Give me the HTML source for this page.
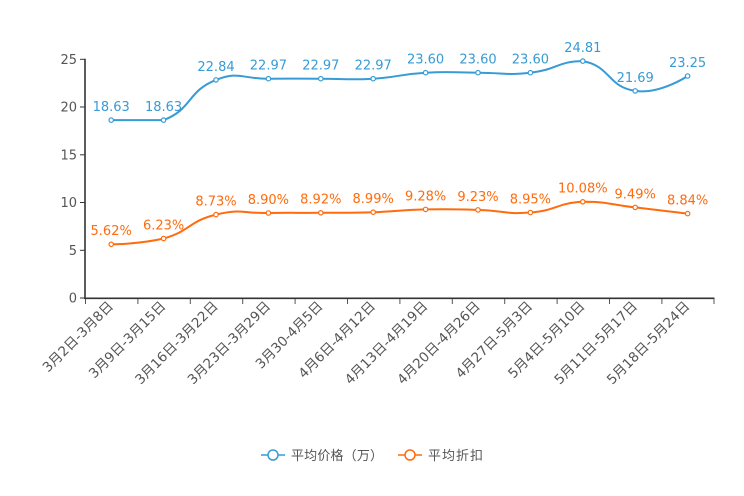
<!DOCTYPE html>
<html><head><meta charset="utf-8"><style>
html,body{margin:0;padding:0;background:#fff;}
svg{display:block;}
text{font-family:"DejaVu Sans","Liberation Sans","Noto Sans CJK SC",sans-serif;}
text.cjk{font-family:"Noto Sans CJK SC","WenQuanYi Zen Hei",sans-serif;}
</style></head><body>
<svg width="744" height="496" viewBox="0 0 744 496" xmlns="http://www.w3.org/2000/svg">
<rect width="744" height="496" fill="#fff"/>
<!-- axes -->
<g stroke="#333" stroke-width="1.6" fill="none">
<line x1="85" y1="58.7" x2="85" y2="299"/>
<line x1="84.2" y1="298.3" x2="714.5" y2="298.3"/>
</g>
<g stroke="#333" stroke-width="1">
<line x1="80" y1="298" x2="85" y2="298"/>
<line x1="80" y1="250.3" x2="85" y2="250.3"/>
<line x1="80" y1="202.5" x2="85" y2="202.5"/>
<line x1="80" y1="154.8" x2="85" y2="154.8"/>
<line x1="80" y1="107" x2="85" y2="107"/>
<line x1="80" y1="59.3" x2="85" y2="59.3"/>
</g>
<g stroke="#555" stroke-width="1">
<line x1="85.5" y1="299" x2="85.5" y2="304"/>
<line x1="137.9" y1="299" x2="137.9" y2="304"/>
<line x1="190.3" y1="299" x2="190.3" y2="304"/>
<line x1="242.7" y1="299" x2="242.7" y2="304"/>
<line x1="295.1" y1="299" x2="295.1" y2="304"/>
<line x1="347.5" y1="299" x2="347.5" y2="304"/>
<line x1="399.9" y1="299" x2="399.9" y2="304"/>
<line x1="452.3" y1="299" x2="452.3" y2="304"/>
<line x1="504.7" y1="299" x2="504.7" y2="304"/>
<line x1="557.1" y1="299" x2="557.1" y2="304"/>
<line x1="609.5" y1="299" x2="609.5" y2="304"/>
<line x1="661.9" y1="299" x2="661.9" y2="304"/>
<line x1="714" y1="299" x2="714" y2="304"/>
</g>
<!-- y labels -->
<g fill="#555" font-size="13" text-anchor="end">
<text x="77" y="302.7">0</text>
<text x="77" y="255">5</text>
<text x="77" y="207.2">10</text>
<text x="77" y="159.5">15</text>
<text x="77" y="111.7">20</text>
<text x="77" y="64">25</text>
</g>
<!-- x labels -->
<g fill="#555" font-size="13.5" text-anchor="end">
<text transform="translate(114,307) rotate(-45)">3月2日-3月8日</text>
<text transform="translate(166.4,307) rotate(-45)">3月9日-3月15日</text>
<text transform="translate(218.8,307) rotate(-45)">3月16日-3月22日</text>
<text transform="translate(271.2,307) rotate(-45)">3月23日-3月29日</text>
<text transform="translate(323.6,307) rotate(-45)">3月30-4月5日</text>
<text transform="translate(376,307) rotate(-45)">4月6日-4月12日</text>
<text transform="translate(428.4,307) rotate(-45)">4月13日-4月19日</text>
<text transform="translate(480.8,307) rotate(-45)">4月20日-4月26日</text>
<text transform="translate(533.2,307) rotate(-45)">4月27日-5月3日</text>
<text transform="translate(585.6,307) rotate(-45)">5月4日-5月10日</text>
<text transform="translate(638,307) rotate(-45)">5月11日-5月17日</text>
<text transform="translate(690.4,307) rotate(-45)">5月18日-5月24日</text>
</g>
<!-- blue series -->
<path fill="none" stroke="#379bd5" stroke-width="2" d="M111.2,120.1 C111.2,120.1 140.42,120.1 163.6,120.1 C192.82,108.89 186.79,91.44 216,79.9 C239.19,70.74 242.2,79.0 268.4,78.7 C294.6,78.4 294.6,78.7 320.8,78.7 C347.0,78.7 347.08,80.2 373.2,78.7 C399.48,77.2 399.32,74.2 425.6,72.7 C451.72,71.2 451.8,72.7 478,72.7 C504.2,72.7 504.51,75.57 530.4,72.7 C556.91,69.77 558.12,61.1 582.8,61.1 C610.52,65.91 607.67,86.99 635.2,90.9 C660.07,94.44 687.6,76.0 687.6,76.0"/>
<g fill="#fff" stroke="#379bd5" stroke-width="1.2">
<circle cx="111.2" cy="120.1" r="2.2"/><circle cx="163.6" cy="120.1" r="2.2"/><circle cx="216" cy="79.9" r="2.2"/><circle cx="268.4" cy="78.7" r="2.2"/><circle cx="320.8" cy="78.7" r="2.2"/><circle cx="373.2" cy="78.7" r="2.2"/><circle cx="425.6" cy="72.7" r="2.2"/><circle cx="478" cy="72.7" r="2.2"/><circle cx="530.4" cy="72.7" r="2.2"/><circle cx="582.8" cy="61.1" r="2.2"/><circle cx="635.2" cy="90.9" r="2.2"/><circle cx="687.6" cy="76" r="2.2"/>
</g>
<g fill="#379bd5" font-size="13" text-anchor="middle">
<text x="111.2" y="111">18.63</text>
<text x="163.6" y="111">18.63</text>
<text x="216" y="70.8">22.84</text>
<text x="268.4" y="69.6">22.97</text>
<text x="320.8" y="69.6">22.97</text>
<text x="373.2" y="69.6">22.97</text>
<text x="425.6" y="63.6">23.60</text>
<text x="478" y="63.6">23.60</text>
<text x="530.4" y="63.6">23.60</text>
<text x="582.8" y="52">24.81</text>
<text x="635.2" y="81.8">21.69</text>
<text x="687.6" y="66.9">23.25</text>
</g>
<!-- orange series -->
<path fill="none" stroke="#ff6b0d" stroke-width="2" d="M111.2,244.3 C111.2,244.3 138.56,244.3 163.6,238.5 C190.96,230.75 188.57,221.27 216,214.6 C240.97,208.52 242.2,213.45 268.4,213.0 C294.6,212.55 294.6,213.0 320.8,212.8 C347.0,212.6 347.0,213.05 373.2,212.2 C399.4,211.35 399.4,209.98 425.6,209.4 C451.8,208.83 451.8,209.13 478,209.9 C504.2,210.68 504.45,214.51 530.4,212.5 C556.85,210.46 556.41,203.08 582.8,201.8 C608.81,201.8 609.0,204.45 635.2,207.4 C661.42,210.35 687.6,213.6 687.6,213.6"/>
<g fill="#fff" stroke="#ff6b0d" stroke-width="1.2">
<circle cx="111.2" cy="244.3" r="2.2"/><circle cx="163.6" cy="238.5" r="2.2"/><circle cx="216" cy="214.6" r="2.2"/><circle cx="268.4" cy="213" r="2.2"/><circle cx="320.8" cy="212.8" r="2.2"/><circle cx="373.2" cy="212.2" r="2.2"/><circle cx="425.6" cy="209.4" r="2.2"/><circle cx="478" cy="209.9" r="2.2"/><circle cx="530.4" cy="212.5" r="2.2"/><circle cx="582.8" cy="201.8" r="2.2"/><circle cx="635.2" cy="207.4" r="2.2"/><circle cx="687.6" cy="213.6" r="2.2"/>
</g>
<g fill="#ff6b0d" font-size="13" text-anchor="middle">
<text x="111.2" y="235.2">5.62%</text>
<text x="163.6" y="229.4">6.23%</text>
<text x="216" y="205.5">8.73%</text>
<text x="268.4" y="203.9">8.90%</text>
<text x="320.8" y="203.7">8.92%</text>
<text x="373.2" y="203.1">8.99%</text>
<text x="425.6" y="200.3">9.28%</text>
<text x="478" y="200.8">9.23%</text>
<text x="530.4" y="203.4">8.95%</text>
<text x="582.8" y="192.7">10.08%</text>
<text x="635.2" y="198.3">9.49%</text>
<text x="687.6" y="204.5">8.84%</text>
</g>
<!-- legend -->
<g fill="none" stroke-width="1.5">
<line x1="261" y1="455" x2="285" y2="455" stroke="#379bd5"/>
<circle cx="273" cy="455" r="5" fill="#fff" stroke="#379bd5"/>
<line x1="398" y1="455" x2="422" y2="455" stroke="#ff6b0d"/>
<circle cx="410" cy="455" r="5" fill="#fff" stroke="#ff6b0d"/>
</g>
<g fill="#555" font-size="13">
<text class="cjk" x="291" y="460" textLength="92" lengthAdjust="spacing">平均价格（万）</text>
<text class="cjk" x="428" y="460" textLength="55" lengthAdjust="spacing">平均折扣</text>
</g>
</svg>
</body></html>
